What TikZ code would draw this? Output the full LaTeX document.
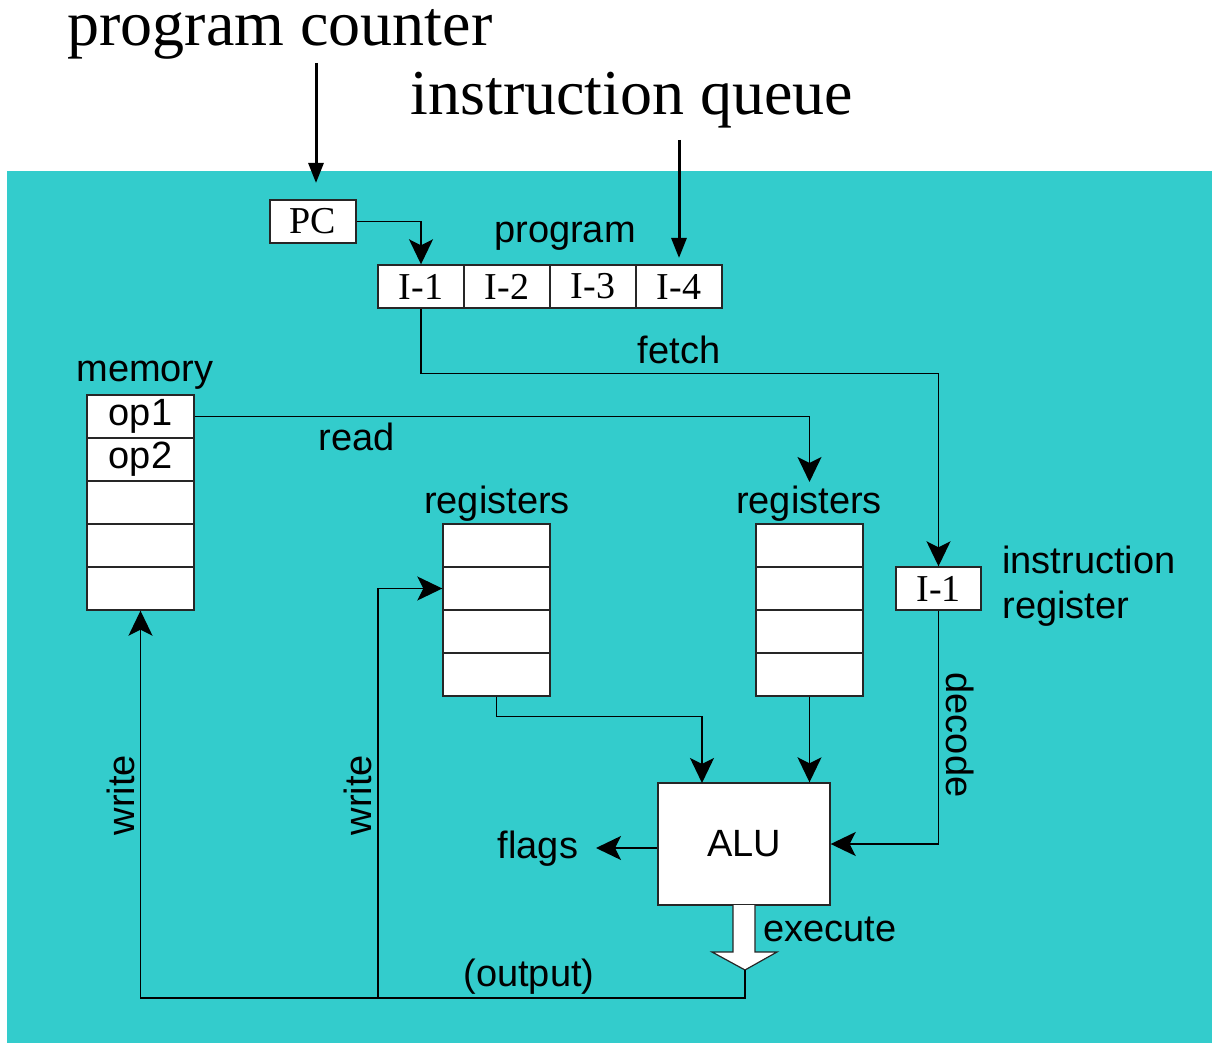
\documentclass[tikz,border=0pt]{standalone}
\usepackage{fontspec}
\setmainfont{Liberation Serif}
\newfontfamily\arialf{Liberation Sans}
\usetikzlibrary{arrows.meta}
\definecolor{bgteal}{HTML}{33CCCC}
\begin{document}
\begin{tikzpicture}[x=0.5pt,y=-0.5pt,
  cell/.style={draw=black!85, fill=white, line width=0.7pt, inner sep=0,
    minimum width=53.5pt, minimum height=21.5pt, font=\arialf\fontsize{19}{22}\selectfont},
  pcell/.style={draw=black!85, fill=white, line width=0.7pt, inner sep=0,
    minimum width=43pt, minimum height=21.5pt, font=\fontsize{19}{22}\selectfont},
  lbl/.style={font=\arialf\fontsize{19}{22}\selectfont, inner sep=0},
  big/.style={font=\fontsize{32}{36}\selectfont, inner sep=0, anchor=base},
  conn/.style={line width=0.75pt, -{Stealth[length=12.5pt,width=12pt,inset=3pt]}},
  bigarrow/.style={line width=1.5pt, -{Triangle[length=10pt,width=7.5pt]}}
]
\useasboundingbox (0,0) rectangle (1212,1043);
\fill[bgteal] (7,171) rectangle (1212,1043);

% top labels
\node[big] (pclabel) at (280,46) {program counter};
\node[big] (qlabel) at (632,115) {instruction queue};
\coordinate (pcstart) at (316,63);
\coordinate (pctip) at (316,183);
\coordinate (qstart) at (679,140);
\coordinate (qtip) at (679,258);
\draw[bigarrow] (pcstart) -- (pctip);
\draw[bigarrow] (qstart) -- (qtip);

% PC and program
\node[pcell] (pc) at (313,221.5) {PC};
\node[pcell] (p1) at (421,286.5) {I-1};
\node[pcell] (p2) at (507,286.5) {I-2};
\node[pcell] (p3) at (593,286.5) {I-3};
\node[pcell] (p4) at (679,286.5) {I-4};
\node[lbl] (proglbl) at (565,236) {program};

% memory
\node[lbl] (memlbl) at (145,375) {memory};
\node[cell] (m1) at (140.5,416.5) {op1};
\node[cell] (m2) at (140.5,459.5) {op2};
\node[cell] (m3) at (140.5,502.5) {};
\node[cell] (m4) at (140.5,545.5) {};
\node[cell] (m5) at (140.5,588.5) {};

% registers 1
\node[lbl] (r1lbl) at (497,504) {registers};
\node[cell] (r1a) at (496.5,545.5) {};
\node[cell] (r1b) at (496.5,588.5) {};
\node[cell] (r1c) at (496.5,631.5) {};
\node[cell] (r1d) at (496.5,674.5) {};

% registers 2
\node[lbl] (r2lbl) at (809,504) {registers};
\node[cell] (r2a) at (809.5,545.5) {};
\node[cell] (r2b) at (809.5,588.5) {};
\node[cell] (r2c) at (809.5,631.5) {};
\node[cell] (r2d) at (809.5,674.5) {};

% instruction register
\node[pcell, minimum width=42.5pt] (ir) at (938.5,588.5) {I-1};
\node[lbl, anchor=west, align=left, font=\arialf\fontsize{19}{22.5}\selectfont] (irlbl) at (1002,586) {instruction\\register};

% ALU
\node[draw=black!85, fill=white, line width=0.7pt, minimum width=86pt, minimum height=61pt,
  inner sep=0, font=\arialf\fontsize{19}{22}\selectfont] (alu) at (744,844) {ALU};

% connectors
\draw[conn] (pc.east) -| (p1.north);
\node[lbl] (fetchlbl) at (679,350) {fetch};
\draw[conn] (p1.south) -- ++(0,65) -| (ir.north);

\coordinate (readend) at (809.5,482);
\draw[conn] (m1.east) -| (readend);
\node[lbl] (readlbl) at (357,437) {read};

\coordinate (aluin1) at (702,783);
\draw[conn] (r1d.south) -- ++(0,20) -| (aluin1);
\draw[conn] (r2d.south) -- (r2d.south |- alu.north);

\draw[conn] (ir.south) |- (alu.east);
\node[lbl, rotate=-90] (declbl) at (960,735) {decode};

\coordinate (flagtip) at (596,848);
\draw[conn] (alu.west |- flagtip) -- (flagtip);
\node[lbl] (flagslbl) at (538,849) {flags};

% execute block arrow
\coordinate (exectip) at (745,970);
\draw[fill=white, draw=black!85, line width=0.6pt]
  (733,905) -- (733,952) -- (712,952) -- (exectip) -- (777,952) -- (755,952) -- (755,905);
\node[lbl] (execlbl) at (830,929) {execute};

% output
\coordinate (outbot) at (745,998);
\coordinate (branch) at (378,998);
\draw[conn] (exectip) -- (outbot) -| (m5.south);
\draw[conn] (branch) |- (r1b.west);
\node[lbl] (outlbl) at (529,977) {(output)};
\node[lbl, rotate=90] (w1lbl) at (121,795) {write};
\node[lbl, rotate=90] (w2lbl) at (358,795) {write};
\end{tikzpicture}
\end{document}
